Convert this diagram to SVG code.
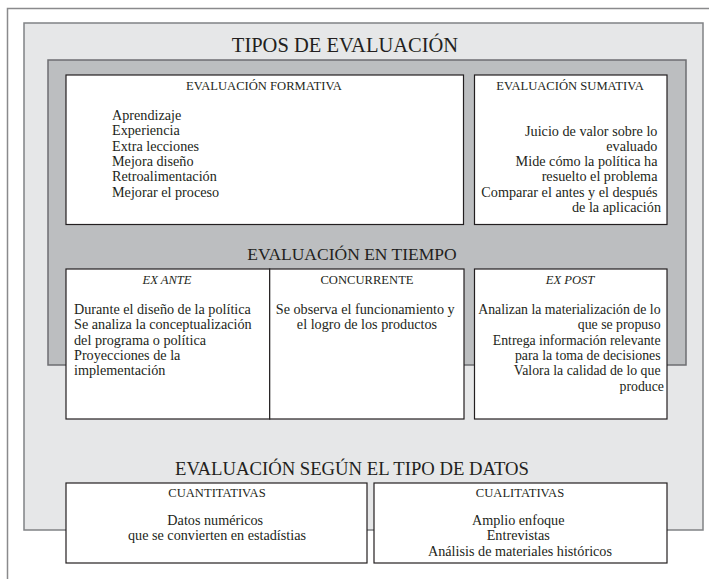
<svg xmlns="http://www.w3.org/2000/svg" width="709" height="579" viewBox="0 0 709 579">
<style>
text{font-family:"Liberation Serif","Times New Roman",serif;fill:#231f20}
.t{font-size:20.5px}
.h{font-size:12.6px}
.b{font-size:14.2px}
.c{text-anchor:middle}
.r{text-anchor:end}
.i{font-style:italic}
.box{fill:#fff;stroke:#231f20;stroke-width:1.2}
.frame{fill:none;stroke:#8a8a8c;stroke-width:1.5}
.light{fill:#e6e7e8;stroke:#808285;stroke-width:1.5}
.dark{fill:#bcbec0;stroke:#6d6e71;stroke-width:1.5}
</style>
<rect width="709" height="579" fill="#fff"/>
<g id="frame">
<path class="frame" d="M7.5 579 V8.5 H709"/>
</g>
<g id="tipos">
<rect class="light" x="24" y="23" width="679" height="507"/>
<text class="t c" x="345" y="52">TIPOS DE EVALUACIÓN</text>
</g>
<g id="tiempo-panel">
<rect class="dark" x="48" y="60" width="638" height="305"/>
<text class="t c" x="352" y="260" style="font-size:17.5px">EVALUACIÓN EN TIEMPO</text>
</g>
<g id="formativa">
<rect class="box" x="66" y="75" width="397.5" height="149.5"/>
<text class="h c" x="264" y="90">EVALUACIÓN FORMATIVA</text>
<text class="b" x="112">
<tspan x="112" y="120">Aprendizaje</tspan>
<tspan x="112" y="135.3">Experiencia</tspan>
<tspan x="112" y="150.6">Extra lecciones</tspan>
<tspan x="112" y="165.9">Mejora diseño</tspan>
<tspan x="112" y="181.2">Retroalimentación</tspan>
<tspan x="112" y="196.5">Mejorar el proceso</tspan>
</text>
</g>
<g id="sumativa">
<rect class="box" x="474.5" y="75" width="192.5" height="149.5"/>
<text class="h c" x="570" y="90">EVALUACIÓN SUMATIVA</text>
<text class="b r">
<tspan x="661" y="135.5">Juicio de valor sobre lo</tspan>
<tspan x="661" y="150.8">evaluado</tspan>
<tspan x="661" y="166.1">Mide cómo la política ha</tspan>
<tspan x="661" y="181.4">resuelto el problema</tspan>
<tspan x="661" y="196.7">Comparar el antes y el después</tspan>
<tspan x="661" y="212">de la aplicación</tspan>
</text>
</g>
<g id="ex-ante">
<rect class="box" x="66" y="269" width="203.7" height="150"/>
<text class="h c i" x="167" y="284">EX ANTE</text>
<text class="b">
<tspan x="74" y="314">Durante el diseño de la política</tspan>
<tspan x="74" y="329.3">Se analiza la conceptualización</tspan>
<tspan x="74" y="344.6">del programa o política</tspan>
<tspan x="74" y="359.9">Proyecciones de la</tspan>
<tspan x="74" y="375.2">implementación</tspan>
</text>
</g>
<g id="concurrente">
<rect class="box" x="269.7" y="269" width="194.3" height="150"/>
<text class="h c" x="367" y="284">CONCURRENTE</text>
<text class="b c">
<tspan x="367" y="314">Se observa el funcionamiento y</tspan>
<tspan x="367" y="329.3">el logro de los productos</tspan>
</text>
</g>
<g id="ex-post">
<rect class="box" x="474.5" y="269" width="192.5" height="150"/>
<text class="h c i" x="570" y="284">EX POST</text>
<text class="b r" style="font-size:13.8px">
<tspan x="664" y="314">Analizan la materialización de lo</tspan>
<tspan x="664" y="329.3">que se propuso</tspan>
<tspan x="664" y="344.6">Entrega información relevante</tspan>
<tspan x="664" y="359.9">para la toma de decisiones</tspan>
<tspan x="664" y="375.2">Valora la calidad de lo que</tspan>
<tspan x="664" y="390.5">produce</tspan>
</text>
</g>
<g id="datos-title">
<text class="t c" x="352" y="475" style="font-size:18.7px">EVALUACIÓN SEGÚN EL TIPO DE DATOS</text>
</g>
<g id="cuantitativas">
<rect class="box" x="66" y="483" width="301" height="80"/>
<text class="h c" x="217" y="497">CUANTITATIVAS</text>
<text class="b c">
<tspan x="217" y="525">Datos numéricos</tspan>
<tspan x="217" y="540.3">que se convierten en estadístias</tspan>
</text>
</g>
<g id="cualitativas">
<rect class="box" x="374" y="483" width="293" height="80"/>
<text class="h c" x="520" y="497">CUALITATIVAS</text>
<text class="b c">
<tspan x="520" y="525">Amplio enfoque</tspan>
<tspan x="520" y="540.3">Entrevistas</tspan>
<tspan x="520" y="555.6">Análisis de materiales históricos</tspan>
</text>
</g>
<g id="connectors"></g>
</svg>
